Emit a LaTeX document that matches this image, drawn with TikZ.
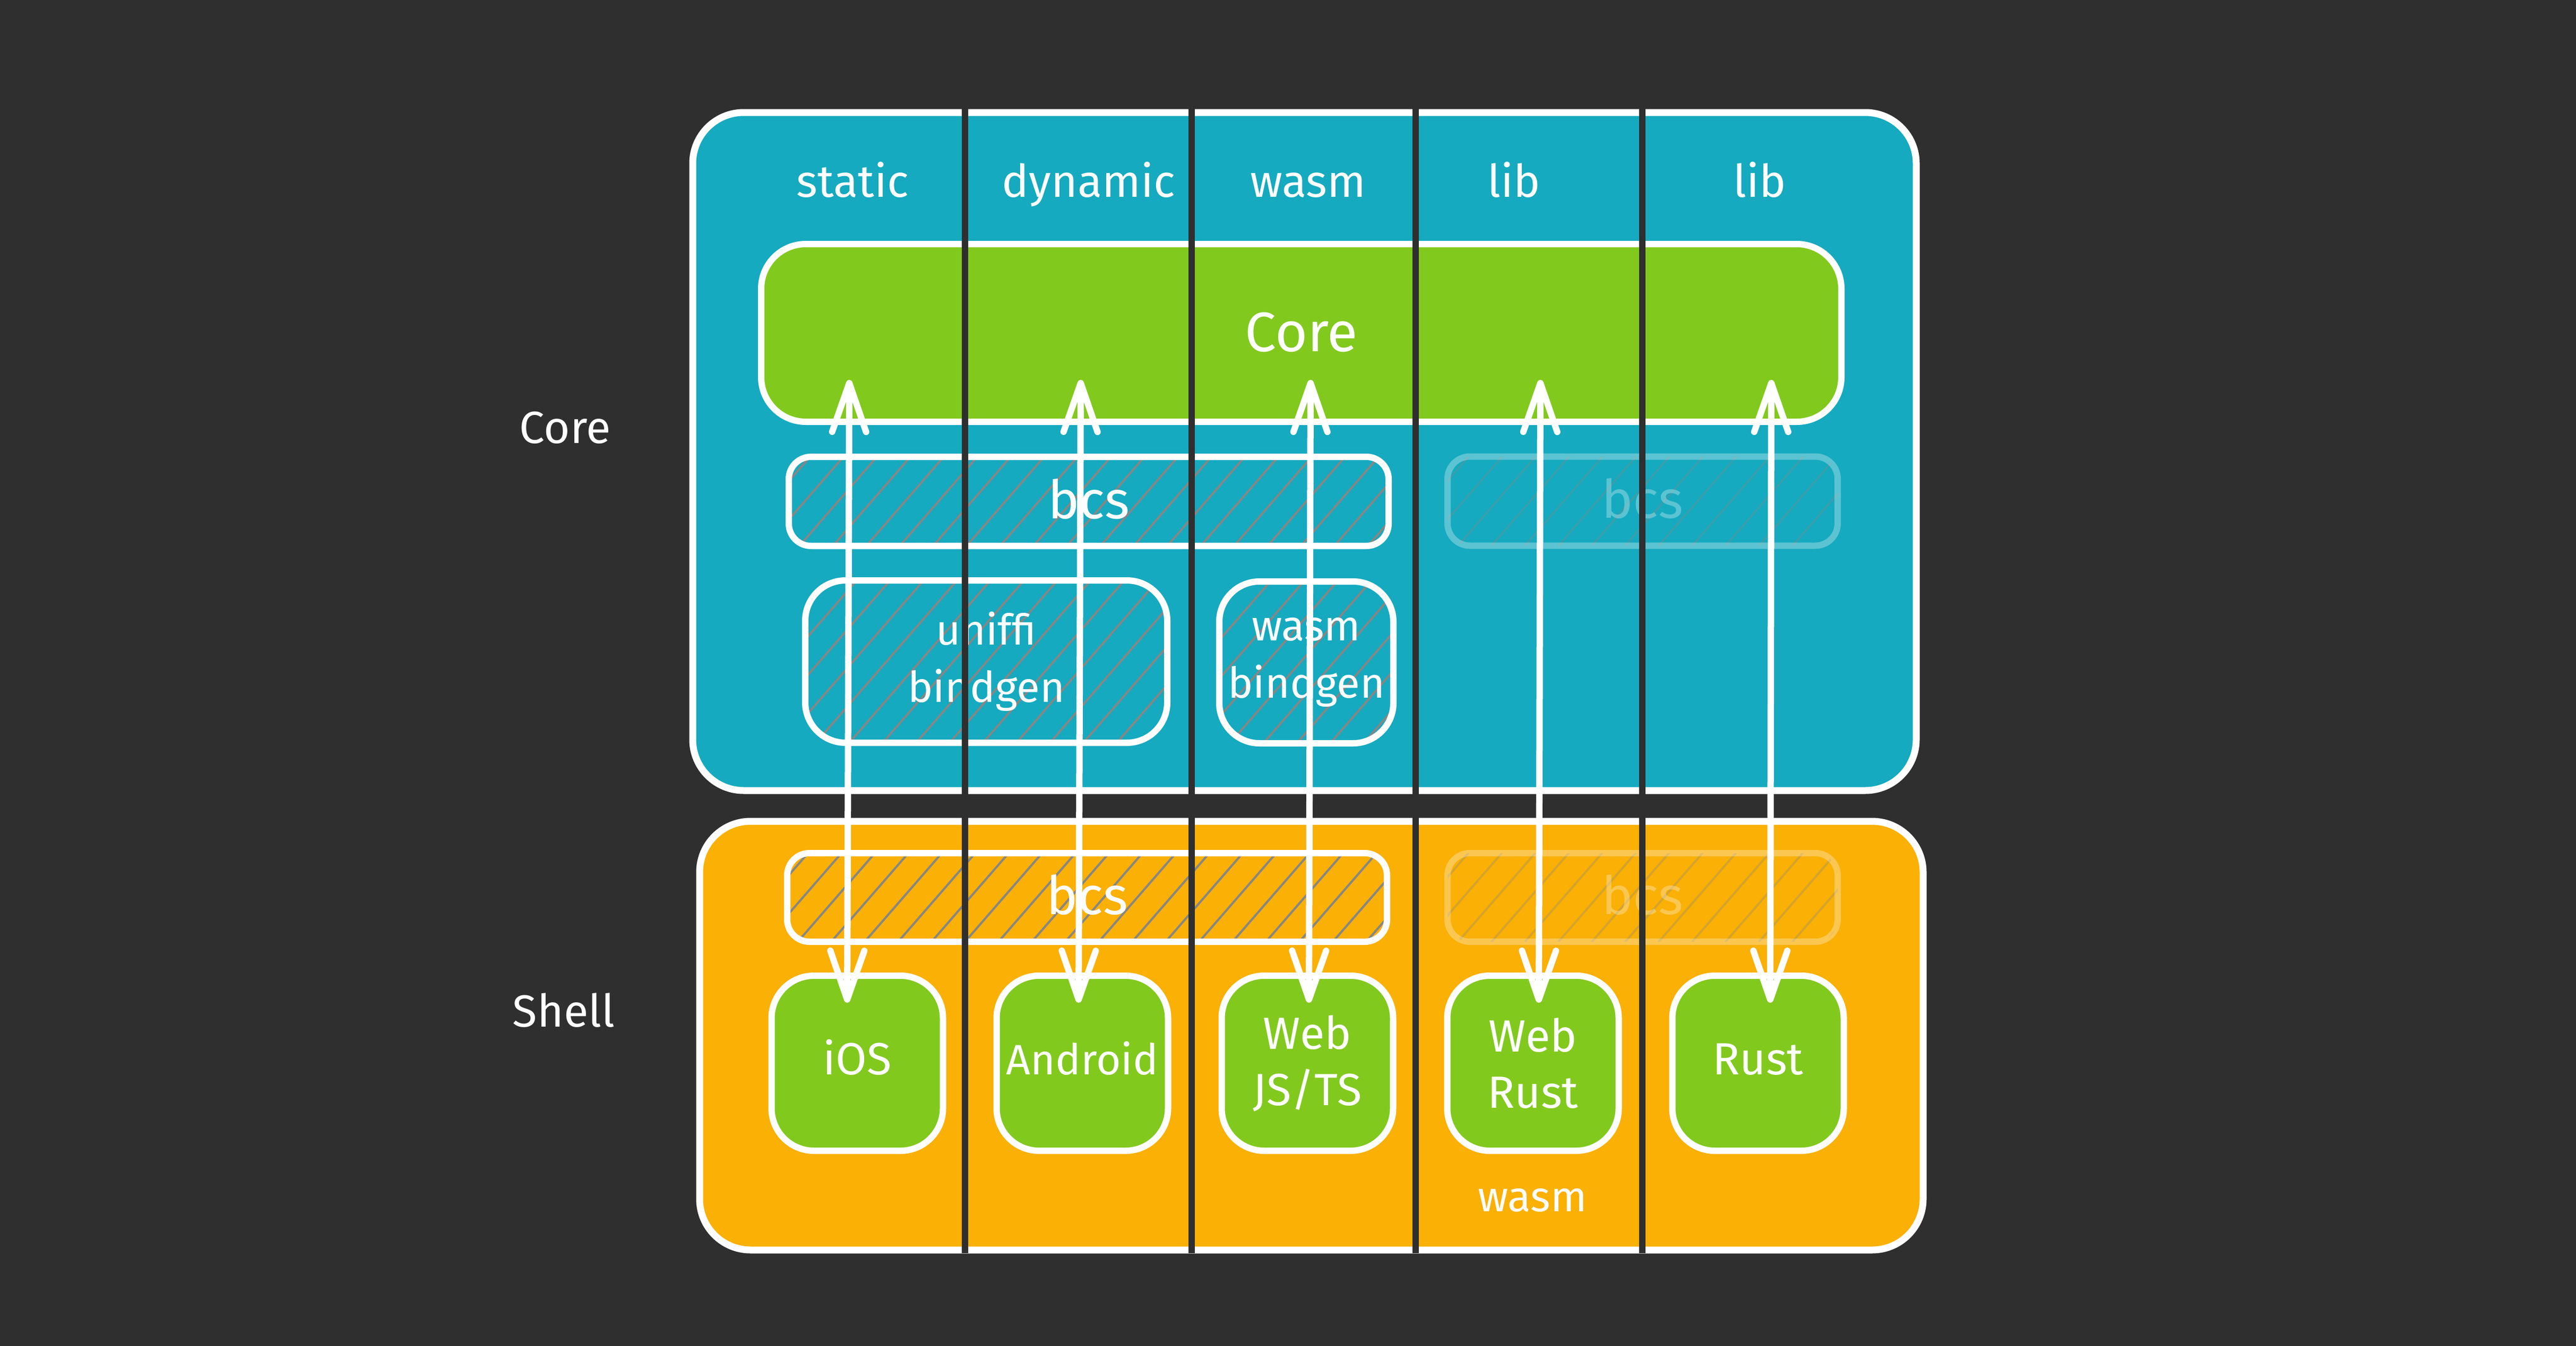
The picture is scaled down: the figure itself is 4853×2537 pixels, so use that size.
\documentclass[tikz,border=0pt]{standalone}
\usepackage{fontspec}
\setmainfont{Fira Sans}
\usetikzlibrary{arrows.meta}
\definecolor{bg}{HTML}{2F2F2F}
\definecolor{corecol}{HTML}{15AABF}
\definecolor{greencol}{HTML}{82C91E}
\definecolor{shellcol}{HTML}{FAB005}
\definecolor{hatchcol}{HTML}{868686}
\begin{document}
\begin{tikzpicture}[x=1pt,y=-1pt,
  outerbox/.style={draw=white,line width=13pt,rounded corners=96pt,inner sep=0pt},
  rbox/.style={draw=white,line width=12pt,inner sep=0pt,text=white,align=center},
  hatched/.style={path picture={
      \foreach \k in {-8,...,20}
        \draw[hatchcol,line width=4pt,line cap=round]
          ([xshift=\k*63pt+20pt]path picture bounding box.south west) -- ++(49:600pt);}},
  faded/.style={opacity=0.3},
  bcsbox/.style={rbox,hatched,rounded corners=42pt,minimum height=168pt,
    font=\fontsize{100}{125}\selectfont,text height=76pt,text depth=12pt},
  binbox/.style={rbox,hatched,rounded corners=76pt,minimum height=306pt,
    font=\fontsize{80}{108}\selectfont},
  shellbox/.style={rbox,fill=greencol,rounded corners=80pt,minimum width=323pt,
    minimum height=330pt,font=\fontsize{85}{106}\selectfont},
  oneline/.style={text height=60pt,text depth=17pt},
  txt/.style={text=white,inner sep=0pt,anchor=base,font=\fontsize{85}{106}\selectfont},
  conn/.style={draw=white,line width=12pt,line cap=round,
    {Straight Barb[length=92pt,width=64pt,round]}-{Straight Barb[length=92pt,width=64pt,round]}},
  divider/.style={draw=bg,line width=12pt}]
\fill[bg] (0,0) rectangle (4853,2537);
\useasboundingbox (0,0) rectangle (4853,2537);

% outer frames
\node[outerbox,fill=corecol,minimum width=2305pt,minimum height=1278pt] (coreframe) at (2457.5,851) {};
\node[outerbox,fill=shellcol,minimum width=2305pt,minimum height=808pt] (shellframe) at (2470.5,1952) {};

% side labels
\node[txt] (lcore) at (1065,835) {Core};
\node[txt] (lshell) at (1062,1935) {Shell};

% column headers
\node[txt] (hstatic) at (1606,371) {static};
\node[txt] (hdynamic) at (2051,371) {dynamic};
\node[txt] (hwasm) at (2464,371) {wasm};
\node[txt] (hlib1) at (2852,371) {lib};
\node[txt] (hlib2) at (3315,371) {lib};

% core
\node[rbox,fill=greencol,rounded corners=84pt,minimum width=2035pt,minimum height=335pt,
  font=\fontsize{105}{130}\selectfont,text height=88pt,text depth=18pt] (core) at (2451.5,627.5) {Core};

% bcs layers
\node[bcsbox,minimum width=1130pt] (bcsA) at (2051,945) {bcs};
\node[bcsbox,faded,minimum width=735pt] (bcsB) at (3094.5,944.5) {bcs};
\node[bcsbox,minimum width=1130pt,minimum height=167pt] (bcsC) at (2048,1691.5) {bcs};
\node[bcsbox,faded,minimum width=735pt,minimum height=167pt] (bcsD) at (3094.5,1691.5) {bcs};

% bindgen boxes
\node[binbox,minimum width=682pt] (uniffi) at (1858,1247) {uniffi\\bindgen};
\node[binbox,minimum width=328pt,minimum height=305pt] (wasmbg) at (2461,1248.5) {wasm\\bindgen};

% shells
\node[shellbox,oneline] (ios) at (1615,2004) {iOS};
\node[shellbox,oneline,font=\fontsize{80}{100}\selectfont] (android) at (2039,2004) {Android};
\node[shellbox] (webjs) at (2463,2004) {Web\\JS/TS};
\node[shellbox] (webrust) at (2888,2004) {Web\\Rust};
\node[shellbox,oneline] (rust) at (3312,2004) {Rust};
\node[txt,font=\fontsize{80}{100}\selectfont] (wasmlbl) at (2887,2283) {wasm};

% connectors
\coordinate (t1) at (1600,716); \coordinate (b1) at (1596,1890);
\coordinate (t2) at (2036,716); \coordinate (b2) at (2032,1890);
\coordinate (t3) at (2469,716); \coordinate (b3) at (2466,1890);
\coordinate (t4) at (2902,716); \coordinate (b4) at (2899,1890);
\coordinate (t5) at (3337,716); \coordinate (b5) at (3335,1890);
\foreach \i in {1,...,5} \draw[conn] (t\i) -- (b\i);

% column dividers
\coordinate (d1t) at (1818,205); \coordinate (d1b) at (1818,2362);
\coordinate (d2t) at (2245,205); \coordinate (d2b) at (2245,2362);
\coordinate (d3t) at (2667,205); \coordinate (d3b) at (2667,2362);
\coordinate (d4t) at (3094,205); \coordinate (d4b) at (3094,2362);
\foreach \i in {1,...,4} \draw[divider] (d\i t) -- (d\i b);
\end{tikzpicture}
\end{document}
